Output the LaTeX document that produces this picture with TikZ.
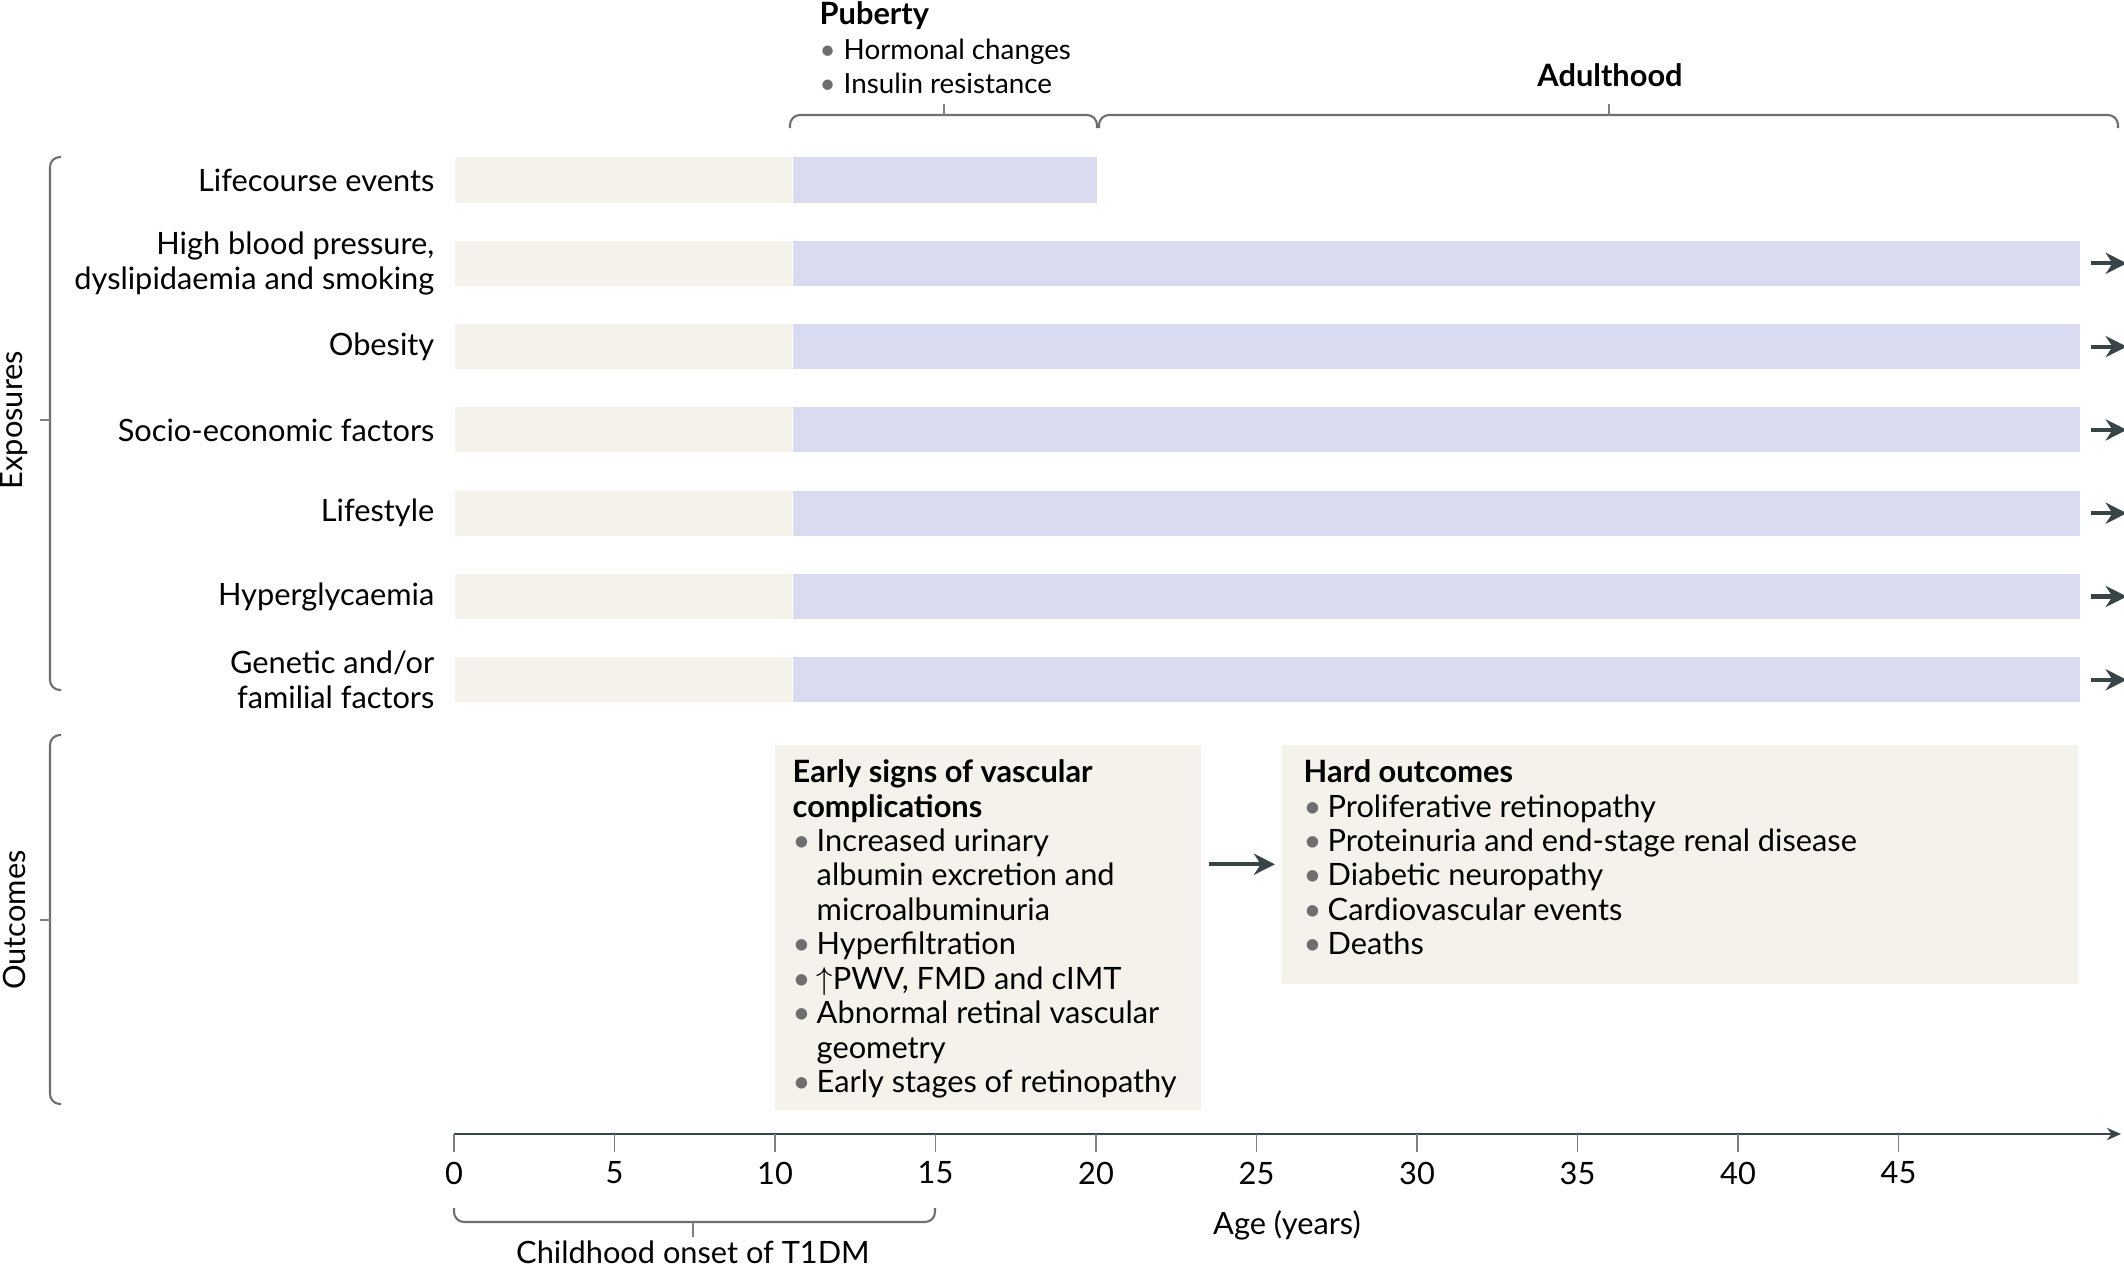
\documentclass[tikz,border=0pt]{standalone}
\usepackage{fontspec}
\setmainfont{Lato}
\usetikzlibrary{arrows.meta,calc}
\definecolor{beige}{HTML}{F5F1EB}
\definecolor{lilac}{HTML}{D9DCF0}
\definecolor{slate}{HTML}{374448}
\definecolor{dotgray}{HTML}{6E6E6E}
\definecolor{bracegray}{HTML}{6D6E70}
\newcommand{\bul}{\makebox[0.24cm][l]{\textcolor{dotgray}{\textbullet}}}
\newcommand{\ind}{\hspace*{0.24cm}}
\tikzstyle{nl} = [anchor=east,align=right,inner sep=0pt]
\tikzstyle{nc} = [rectangle,fill=beige,anchor=west,minimum width=3.37cm,minimum height=0.45cm,inner sep=0pt]
\tikzstyle{nv} = [rectangle,fill=lilac,anchor=west,minimum width=12.86cm,minimum height=0.45cm,inner sep=0pt]
\tikzstyle{nx} = [rectangle,fill=beige,anchor=north west,inner sep=0pt]
\tikzstyle{nt} = [anchor=north west,align=left,inner sep=0pt]
\tikzstyle{ar} = [-{Stealth[length=6pt,width=6pt]},line width=1.2pt,draw=slate]
\tikzstyle{ax} = [-{Stealth[length=4pt,width=3.5pt]},line width=0.8pt,draw=slate]
\tikzstyle{br} = [draw=bracegray,line width=0.6pt,rounded corners=0.1cm]
\tikzstyle{tk} = [draw=gray,line width=0.5pt]

\begin{document}
\fontsize{8.75}{9.8}\selectfont
\begin{tikzpicture}[x=0.01cm,y=-0.01cm]
  \useasboundingbox (0,0) rectangle (2124,1266);
  % exposure rows
  \node[nc](c1) at (454,180) {};
  \node[nv,minimum width=3.04cm](v1) at (c1.east) {};
  \node[nl](l1) at ($(c1.west)+(-19,0)$) {Lifecourse events};
  \node[nc](c2) at ($(c1.west)+(0,83.3)$) {};
  \node[nv](v2) at (c2.east) {};
  \node[nl](l2) at ($(c2.west)+(-19,0)$) {High blood pressure,\\dyslipidaemia and smoking};
  \node[nc](c3) at ($(c2.west)+(0,83.3)$) {};
  \node[nv](v3) at (c3.east) {};
  \node[nl](l3) at ($(c3.west)+(-19,0)$) {Obesity};
  \node[nc](c4) at ($(c3.west)+(0,83.3)$) {};
  \node[nv](v4) at (c4.east) {};
  \node[nl](l4) at ($(c4.west)+(-19,0)$) {Socio-economic factors};
  \node[nc](c5) at ($(c4.west)+(0,83.3)$) {};
  \node[nv](v5) at (c5.east) {};
  \node[nl](l5) at ($(c5.west)+(-19,0)$) {Lifestyle};
  \node[nc](c6) at ($(c5.west)+(0,83.3)$) {};
  \node[nv](v6) at (c6.east) {};
  \node[nl](l6) at ($(c6.west)+(-19,0)$) {Hyperglycaemia};
  \node[nc](c7) at ($(c6.west)+(0,83.3)$) {};
  \node[nv](v7) at (c7.east) {};
  \node[nl](l7) at ($(c7.west)+(-19,0)$) {Genetic and/or\\familial factors};
  \draw[ar,shorten <=0.1cm] (v2.east) -- ++(46,0);
  \draw[ar,shorten <=0.1cm] (v3.east) -- ++(46,0);
  \draw[ar,shorten <=0.1cm] (v4.east) -- ++(46,0);
  \draw[ar,shorten <=0.1cm] (v5.east) -- ++(46,0);
  \draw[ar,shorten <=0.1cm] (v6.east) -- ++(46,0);
  \draw[ar,shorten <=0.1cm] (v7.east) -- ++(46,0);
  % outcome boxes
  \node[nx,minimum width=4.26cm,minimum height=3.65cm](eb) at (774,744) {};
  \node[nt](et) at ($(eb.north west)+(18,15)$) {\textbf{Early signs of vascular}\\\textbf{complications}\\
    \bul Increased urinary\\\ind albumin excretion and\\\ind microalbuminuria\\
    \bul Hyperfiltration\\\bul $\uparrow$PWV, FMD and cIMT\\
    \bul Abnormal retinal vascular\\\ind geometry\\\bul Early stages of retinopathy};
  \node[nx,minimum width=7.96cm,minimum height=2.39cm](hb) at (1281,744) {};
  \node[nt](ht) at ($(hb.north west)+(22,15)$) {\textbf{Hard outcomes}\\
    \bul Proliferative retinopathy\\\bul Proteinuria and end-stage renal disease\\
    \bul Diabetic neuropathy\\\bul Cardiovascular events\\\bul Deaths};
  \draw[ar,shorten <=0.07cm,shorten >=0.06cm] (eb.east |- hb.west) -- (hb.west);
  % periods
  \node[nt](pu) at (819,1) {\textbf{Puberty}\\\fontsize{7.9}{9.8}\selectfont\bul Hormonal changes\\\fontsize{7.9}{9.8}\selectfont\bul Insulin resistance};
  \draw[br] (790,128) -- (790,115) -- (1097,115) -- (1097,128);
  \draw[tk] (944,115) -- (944,104);
  \node(ad) at (1610,75) {\textbf{Adulthood}};
  \draw[br] (1099,128) -- (1099,115) -- (2118,115) -- (2118,128);
  \draw[tk] (1609,115) -- (1609,104);
  % side braces
  \draw[br] (61,157) -- (50,157) -- (50,690) -- (61,690);
  \draw[tk] (50,420) -- (40,420);
  \node[rotate=90](ex) at (14,420) {Exposures};
  \draw[br] (61,735) -- (50,735) -- (50,1104) -- (61,1104);
  \draw[tk] (50,920) -- (40,920);
  \node[rotate=90](oc) at (14,920) {Outcomes};
  % age axis
  \coordinate (o) at (454,1134);
  \draw[ax] (o) -- (2121,1134);
  \foreach \a in {0,5,...,45} {
    \draw[tk] ($(o)+(32.1*\a,0)$) -- ++(0,18);
    \node(t\a) at ($(o)+(32.1*\a,39)$) {\a};
  }
  \draw[br] (454,1208) -- (454,1222) -- (935,1222) -- (935,1208);
  \draw[tk] (693,1222) -- (693,1237);
  \node(ch) at (693,1252) {Childhood onset of T1DM};
  \node(ag) at (1287,1225) {Age (years)};
\end{tikzpicture}
\end{document}
